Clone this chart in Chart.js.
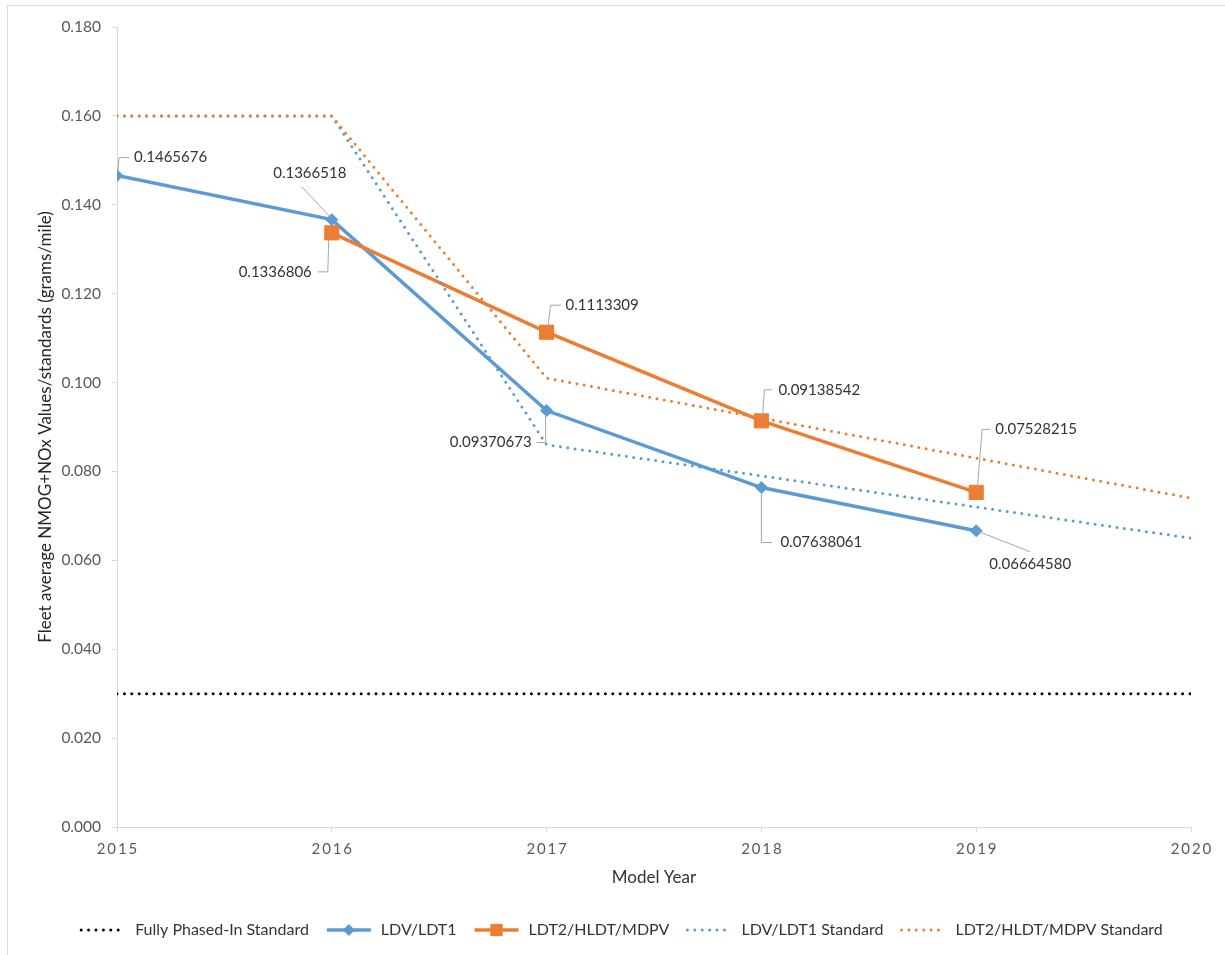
<!DOCTYPE html>
<html lang="en">
<head>
  <meta charset="UTF-8" />
  <title>Fleet average NMOG+NOx</title>
  <script src="https://cdn.jsdelivr.net/npm/chart.js@4.4.3/dist/chart.umd.min.js"></script>
  <style>
    html, body {
      margin: 0;
      padding: 0;
      background: #fff;
    }

    #wrap {
      width: 1225px;
      height: 955px;
    }
  </style>
</head>
<body>
  <div id="wrap">
    <canvas id="fleetChart" width="1225" height="955"></canvas>
  </div>

  <script>
    const years = [2015, 2016, 2017, 2018, 2019, 2020];
    const fullyPhasedIn = [0.030, 0.030, 0.030, 0.030, 0.030, 0.030];
    const ldvLdt1 = [0.1465676, 0.1366518, 0.09370673, 0.07638061, 0.06664580, null];
    const ldt2Hldt = [null, 0.1336806, 0.1113309, 0.09138542, 0.07528215, null];
    const ldvLdt1Std = [0.160, 0.160, 0.086, 0.079, 0.072, 0.065];
    const ldt2HldtStd = [0.160, 0.160, 0.101, 0.092, 0.083, 0.074];

    const BLUE = '#5B9BD5';
    const ORANGE = '#ED7D31';
    const FONT = 'Lato';

    // callout placement per point (pixel offsets from the marker)
    const ldvCallouts = [
      { path: [[1, -4], [2, -18], [12, -18]], text: [17, -18], align: 'left' },
      { path: [[-2, -3], [-30, -33]], text: [-22, -47], align: 'center' },
      { path: [[-1, 3], [-1, 32], [-10, 32]], text: [-15, 32], align: 'right' },
      { path: [[0, 3], [0, 55], [11, 55]], text: [19, 55], align: 'left' },
      { path: [[3, 1], [54, 21]], text: [54, 33], align: 'center' },
      null
    ];
    const ldt2Callouts = [
      null,
      { path: [[-3, 5], [-4, 39], [-14, 39]], text: [-20, 39], align: 'right' },
      { path: [[1, -3], [4, -27], [14, -27]], text: [19, -27], align: 'left' },
      { path: [[1, -3], [3, -31], [11, -31]], text: [17, -31], align: 'left' },
      { path: [[1, -3], [6, -63], [14, -63]], text: [19, -63], align: 'left' },
      null
    ];

    const toPoints = arr => years.map((x, i) => ({ x: x, y: arr[i] }));

    const dotted = color => ({
      borderColor: color,
      backgroundColor: color,
      borderWidth: 3,
      borderDash: [0, 7.4],
      borderCapStyle: 'round',
      pointRadius: 0,
      pointHoverRadius: 0,
      fill: false,
      tension: 0
    });

    const datasets = [
      Object.assign({ label: 'Fully Phased-In Standard', data: toPoints(fullyPhasedIn), order: 4 }, dotted('#000000')),
      {
        label: 'LDV/LDT1',
        data: toPoints(ldvLdt1),
        order: 3,
        borderColor: BLUE,
        backgroundColor: BLUE,
        borderWidth: 3.5,
        pointStyle: 'rectRot',
        pointRadius: 6,
        pointBorderWidth: 1,
        pointHoverRadius: 6,
        tension: 0,
        callouts: ldvCallouts
      },
      {
        label: 'LDT2/HLDT/MDPV',
        data: toPoints(ldt2Hldt),
        order: 2,
        borderColor: ORANGE,
        backgroundColor: ORANGE,
        borderWidth: 3.5,
        pointStyle: 'rect',
        pointRadius: 10,
        pointBorderWidth: 1,
        pointHoverRadius: 10,
        tension: 0,
        callouts: ldt2Callouts
      },
      Object.assign({ label: 'LDV/LDT1 Standard', data: toPoints(ldvLdt1Std), order: 1 }, dotted(BLUE)),
      Object.assign({ label: 'LDT2/HLDT/MDPV Standard', data: toPoints(ldt2HldtStd), order: 0 }, dotted(ORANGE))
    ];

    // light frame round the whole chart
    const frame = {
      id: 'frame',
      beforeDraw(chart) {
        const ctx = chart.ctx;
        ctx.save();
        ctx.strokeStyle = '#d9d9d9';
        ctx.lineWidth = 1;
        ctx.strokeRect(7.5, 5.5, 1300, 1000);
        ctx.restore();
      }
    };

    // value labels with grey leader lines
    const callouts = {
      id: 'callouts',
      afterDatasetsDraw(chart) {
        const ctx = chart.ctx;
        ctx.save();
        ctx.font = '15px ' + FONT;
        ctx.textBaseline = 'middle';
        chart.data.datasets.forEach((ds, di) => {
          if (!ds.callouts) return;
          const meta = chart.getDatasetMeta(di);
          meta.data.forEach((pt, i) => {
            const c = ds.callouts[i];
            const v = ds.data[i].y;
            if (!c || v == null) return;
            ctx.strokeStyle = '#a6a6a6';
            ctx.lineWidth = 1;
            ctx.beginPath();
            c.path.forEach(([dx, dy], k) => {
              if (k === 0) ctx.moveTo(pt.x + dx, pt.y + dy);
              else ctx.lineTo(pt.x + dx, pt.y + dy);
            });
            ctx.stroke();
            ctx.fillStyle = '#333333';
            ctx.textAlign = c.align;
            ctx.fillText(v.toPrecision(7), pt.x + c.text[0], pt.y + c.text[1]);
          });
        });
        ctx.restore();
      }
    };

    // legend row under the axis title
    const bottomLegend = {
      id: 'bottomLegend',
      afterDraw(chart) {
        const ctx = chart.ctx;
        const y = 930;
        const symW = 48;
        const gap = 8;
        const itemGap = 16;
        ctx.save();
        ctx.font = '16px ' + FONT;
        ctx.textBaseline = 'middle';
        ctx.textAlign = 'left';
        const items = chart.data.datasets;
        const widths = items.map(d => symW + gap + ctx.measureText(d.label).width);
        const total = widths.reduce((a, b) => a + b, 0) + itemGap * (items.length - 1);
        let x = 621 - total / 2;
        items.forEach((d, i) => {
          ctx.strokeStyle = d.borderColor;
          ctx.lineWidth = d.borderWidth;
          ctx.lineCap = d.borderCapStyle || 'butt';
          ctx.setLineDash(d.borderDash || []);
          ctx.beginPath();
          ctx.moveTo(x + 2, y);
          ctx.lineTo(x + symW - 2, y);
          ctx.stroke();
          ctx.setLineDash([]);
          if (d.pointRadius) {
            ctx.fillStyle = d.backgroundColor;
            ctx.strokeStyle = d.borderColor;
            ctx.lineWidth = 1;
            Chart.helpers.drawPoint(ctx, {
              pointStyle: d.pointStyle,
              rotation: 0,
              radius: d.pointStyle === 'rect' ? 8 : 5.5,
              borderWidth: 1
            }, x + symW / 2, y);
          }
          ctx.fillStyle = '#333333';
          ctx.fillText(d.label, x + symW + gap, y);
          x += widths[i] + itemGap;
        });
        ctx.restore();
      }
    };

    const axisGrid = {
      drawOnChartArea: false,
      drawTicks: true,
      tickLength: 5,
      color: '#d9d9d9'
    };

    new Chart(document.getElementById('fleetChart'), {
      type: 'line',
      data: { datasets: datasets },
      options: {
        responsive: false,
        animation: false,
        events: [],
        layout: { padding: { top: 27, right: 34, bottom: 58, left: 0 } },
        plugins: {
          legend: { display: false },
          tooltip: { enabled: false }
        },
        scales: {
          x: {
            type: 'linear',
            min: 2015,
            max: 2020,
            afterFit: scale => { scale.height = 70; },
            ticks: {
              stepSize: 1,
              padding: 8,
              maxRotation: 0,
              color: '#595959',
              font: { family: FONT, size: 15 },
              callback: v => String(v).split('').join('\u2009')
            },
            grid: axisGrid,
            border: { color: '#d9d9d9' },
            title: {
              display: true,
              text: 'Model Year',
              color: '#333333',
              font: { family: FONT, size: 17 },
              padding: { top: 0, bottom: 9 }
            }
          },
          y: {
            min: 0,
            max: 0.18,
            afterFit: scale => { scale.width = 117; },
            ticks: {
              stepSize: 0.02,
              padding: 11,
              color: '#595959',
              font: { family: FONT, size: 15.5 },
              callback: v => v.toFixed(3)
            },
            grid: axisGrid,
            border: { color: '#d9d9d9' },
            title: {
              display: true,
              text: 'Fleet average NMOG+NOx Values/standards (grams/mile)',
              color: '#262626',
              font: { family: FONT, size: 17 },
              padding: { top: 35, bottom: 0 }
            }
          }
        }
      },
      plugins: [frame, callouts, bottomLegend]
    });
  </script>
</body>
</html>
